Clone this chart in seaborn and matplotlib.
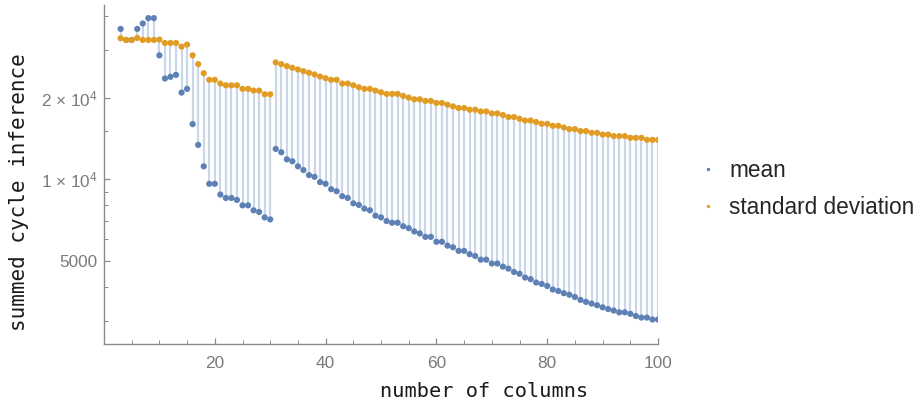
import numpy as np
import pandas as pd
import matplotlib
matplotlib.use("Agg")
import matplotlib.pyplot as plt
import matplotlib.ticker as mticker
import seaborn as sns

columns = list(range(3, 101))

std_dev = [33150, 32670, 32670, 33230, 32670, 32670, 32670, 32780, 31840, 31840,
           31840, 30870, 31410, 28660, 26600, 24630, 23280, 23280, 22550, 22220,
           22220, 22220, 21550, 21550, 21240, 21240, 20580, 20580, 26990, 26600,
           26150, 25790, 25420, 25050, 24710, 24360, 23940, 23600, 23280, 23280,
           22550, 22550, 22220, 21850, 21550, 21550, 21240, 20940, 20650, 20650,
           20650, 20300, 20010, 19720, 19720, 19450, 19450, 19120, 19120, 18840,
           18570, 18320, 18320, 18050, 18050, 17790, 17790, 17490, 17490, 17250,
           16960, 16960, 16710, 16470, 16470, 16250, 16010, 16010, 15740, 15740,
           15520, 15300, 15300, 15050, 15050, 14830, 14830, 14610, 14610, 14420,
           14420, 14420, 14210, 14210, 14210, 13970, 13970, 13970]

mean = [35890, 32670, 32670, 35890, 37590, 39340, 39340, 28660, 23540, 23880,
        24290, 20880, 21550, 15970, 13380, 11150, 9610, 9610, 8770, 8520,
        8520, 8380, 8000, 8000, 7670, 7560, 7220, 7100, 12930, 12570,
        11840, 11640, 11150, 10800, 10350, 10200, 9750, 9610, 9180, 9020,
        8650, 8520, 8140, 8030, 7780, 7670, 7330, 7220, 7000, 6900,
        6900, 6700, 6590, 6410, 6300, 6120, 6120, 5870, 5870, 5680,
        5600, 5430, 5430, 5280, 5200, 5040, 5040, 4880, 4880, 4750,
        4670, 4540, 4470, 4330, 4270, 4150, 4100, 4030, 3910, 3860,
        3790, 3740, 3670, 3580, 3520, 3470, 3420, 3360, 3310, 3270,
        3220, 3220, 3180, 3120, 3080, 3080, 3030, 3030]

series_names = ["mean", "standard deviation"]
y_major = [5000, 10000, 20000]
y_major_labels = ["5000", "1 × 10$^{4}$", "2 × 10$^{4}$"]
y_minor = [3000, 4000, 6000, 7000, 8000, 9000, 15000, 30000, 40000]
x_major = [20, 40, 60, 80, 100]

sns.set_style("white")
plt.rcParams["font.family"] = ["Liberation Sans", "DejaVu Sans"]
plt.rcParams["mathtext.default"] = "regular"

df = pd.concat([
    pd.DataFrame({"cols": columns, "value": mean, "series": series_names[0]}),
    pd.DataFrame({"cols": columns, "value": std_dev, "series": series_names[1]}),
], ignore_index=True)

fig = plt.figure(figsize=(9.17, 4.07), dpi=100)
ax = fig.add_axes([0.1134, 0.1548, 0.6042, 0.833])

ax.vlines(columns, mean, std_dev, color="#cad6e9", lw=1.6, zorder=1)
sns.scatterplot(data=df, x="cols", y="value", hue="series",
                palette=["#5e81b5", "#e19c24"], s=20, linewidth=0,
                ax=ax, zorder=2)

ax.set_yscale("log")
ax.set_xlim(0, 100)
ax.set_ylim(2460, 44000)

ax.yaxis.set_major_locator(mticker.FixedLocator(y_major))
ax.yaxis.set_major_formatter(mticker.FixedFormatter(y_major_labels))
ax.yaxis.set_minor_locator(mticker.FixedLocator(y_minor))
ax.yaxis.set_minor_formatter(mticker.NullFormatter())
ax.xaxis.set_major_locator(mticker.FixedLocator(x_major))
ax.xaxis.set_minor_locator(mticker.MultipleLocator(5))

for s in ["top", "right"]:
    ax.spines[s].set_visible(False)
for s in ["left", "bottom"]:
    ax.spines[s].set_color("#8a8a8a")
    ax.spines[s].set_linewidth(1.0)

ax.tick_params(which="both", bottom=True, left=True, direction="in",
               color="#8a8a8a")
ax.tick_params(which="major", length=4.3, width=0.9,
               labelcolor="#7a7a7a", labelsize=12.4)
ax.tick_params(which="minor", length=2.6, width=0.7)
ax.tick_params(axis="x", which="major", pad=9)
ax.tick_params(axis="y", which="major", pad=4.5)

ax.set_xlabel("number of columns", family="DejaVu Sans Mono", fontsize=14.6,
              color="#1a1a1a")
ax.set_ylabel("summed cycle inference", family="DejaVu Sans Mono", fontsize=15.0,
              color="#1a1a1a")
ax.xaxis.set_label_coords(0.686, -0.112)
ax.yaxis.set_label_coords(-0.135, 0.448)

sns.move_legend(ax, "center left", bbox_to_anchor=(1.054, 0.457), frameon=False,
                title=None, fontsize=16.3, markerscale=0.55, handlelength=1.0,
                handletextpad=0.42, labelspacing=0.62, borderaxespad=0)

fig.savefig("out.png", dpi=100)
